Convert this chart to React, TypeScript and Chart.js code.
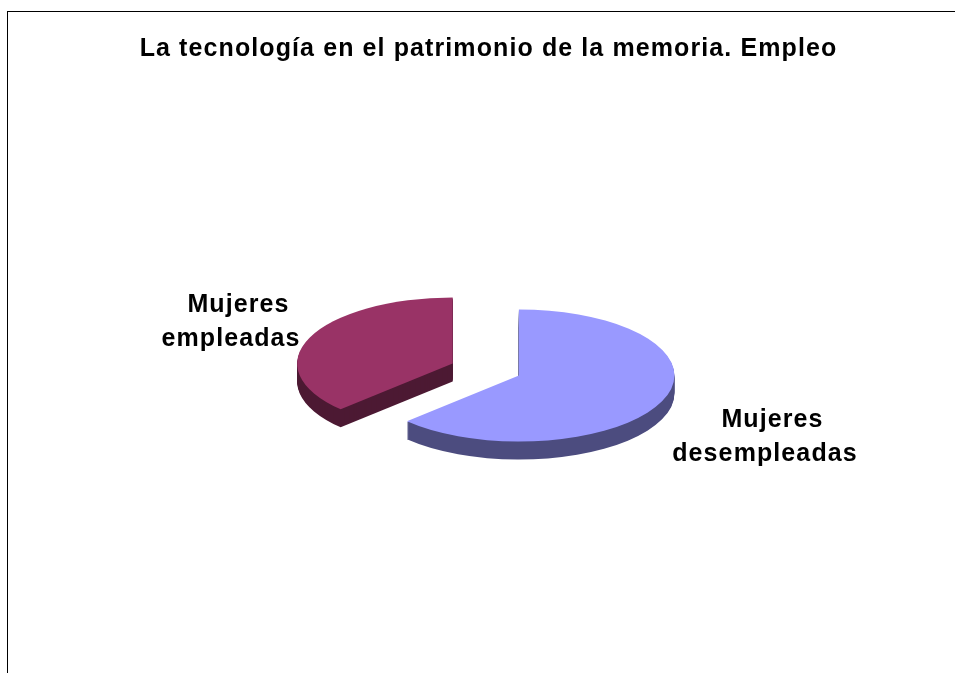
import React, { useEffect, useRef } from "react";
import { Chart, registerables } from "chart.js";

Chart.register(...registerables);

const titleText = "La tecnología en el patrimonio de la memoria. Empleo";
const categories = ["Mujeres desempleadas", "Mujeres empleadas"];
const shares = [62.8, 37.2];
const topColors = ["#9999FF", "#993366"];

const FONT_FAMILY = "'Liberation Sans', Arial, sans-serif";
const SQUASH = 0.425;
const DEPTH = 18;
const EXPLODE = 36;
const PIE_SHIFT_X = -2.7;
const LETTER_SPACING = "1.1px";
const FIRST_LINE_SHIFT = 7.5;
const labelAnchors = [
  { x: 765, y: 420.5 },
  { x: 231, y: 305.5 },
];

const pie3d = {
  id: "pie3d",
  beforeDraw(chart: any) {
    chart.ctx.letterSpacing = LETTER_SPACING;
  },
  beforeDatasetsDraw(chart: any) {
    const ctx = chart.ctx;
    const arcs = chart.getDatasetMeta(0).data;
    const { x: cx, y: cy } = arcs[0];
    const drawArc = (a: any, dy: number) => {
      const mid = (a.startAngle + a.endAngle) / 2;
      ctx.save();
      ctx.translate(Math.cos(mid) * EXPLODE, Math.sin(mid) * EXPLODE + dy);
      a.draw(ctx);
      ctx.restore();
    };
    ctx.save();
    ctx.translate(cx + PIE_SHIFT_X, cy);
    ctx.scale(1, SQUASH);
    ctx.translate(-cx, -cy);
    ctx.save();
    ctx.filter = "brightness(50%)";
    for (let d = DEPTH; d >= 1; d--) {
      arcs.forEach((a: any) => drawArc(a, d / SQUASH));
    }
    ctx.restore();
    arcs.forEach((a: any) => drawArc(a, 0));
    ctx.restore();
    return false;
  },
  afterDraw(chart: any) {
    const ctx = chart.ctx;
    ctx.save();
    ctx.letterSpacing = LETTER_SPACING;
    ctx.fillStyle = "#000";
    ctx.font = `bold 25px ${FONT_FAMILY}`;
    ctx.textAlign = "center";
    ctx.textBaseline = "middle";
    categories.forEach((c, i) => {
      c.split(" ").forEach((line, j) => {
        const x = labelAnchors[i].x + (j === 0 ? FIRST_LINE_SHIFT : 0);
        ctx.fillText(line, x, labelAnchors[i].y + j * 33.5);
      });
    });
    ctx.restore();
  },
};

export default function App() {
  const ref = useRef<HTMLCanvasElement>(null);
  useEffect(() => {
    const chart = new Chart(ref.current!, {
      type: "pie",
      data: {
        labels: categories,
        datasets: [
          {
            data: shares,
            backgroundColor: topColors,
            borderWidth: 0,
            hoverOffset: 0,
          } as any,
        ],
      },
      options: {
        animation: false,
        responsive: false,
        radius: 155.5,
        plugins: {
          legend: { display: false },
          tooltip: { enabled: false },
          title: {
            display: true,
            text: titleText,
            color: "#000",
            font: { family: FONT_FAMILY, size: 25, weight: "bold", lineHeight: 1.2 },
            padding: { top: 34, bottom: 2 },
          },
        },
      } as any,
      plugins: [pie3d],
    });
    return () => chart.destroy();
  }, []);
  return (
    <div style={{ position: "fixed", left: 0, top: 0, width: 955, height: 673, overflow: "hidden", background: "#fff" }}>
      <canvas ref={ref} width={977} height={673} style={{ position: "absolute", left: 0, top: 0 }} />
      <div style={{ position: "absolute", left: 7, top: 11, width: 948, height: 662, borderLeft: "1px solid #000", borderTop: "1px solid #000", boxSizing: "border-box" }} />
    </div>
  );
}
